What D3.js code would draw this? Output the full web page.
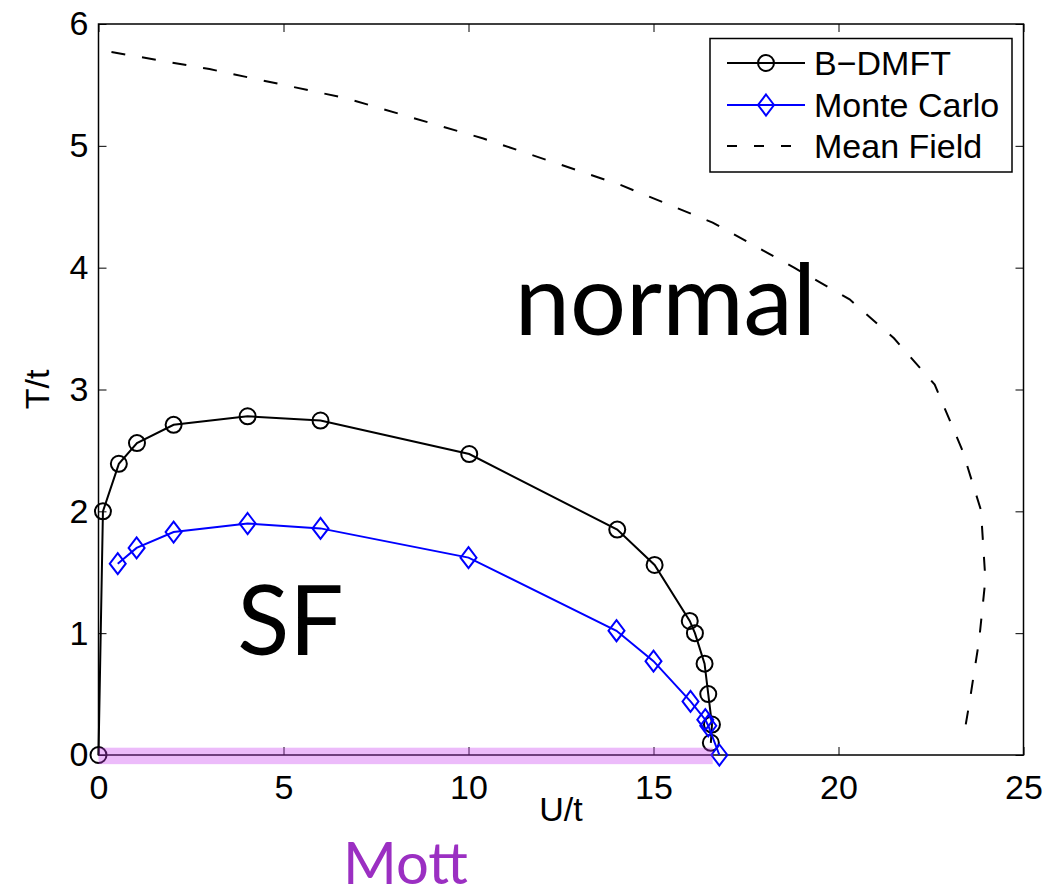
<!DOCTYPE html>
<html>
<head>
<meta charset="utf-8">
<script src="https://cdn.jsdelivr.net/npm/d3@7"></script>
<style>
  body { margin: 0; background: #fff; }
  svg { display: block; }
  .axis text { font-family: 'Liberation Sans', Arial, sans-serif; font-size: 34px; fill: #000; }
</style>
</head>
<body>
<div id="chart"></div>
<script>
// B-DMFT (black circles)
const bdmftU = [0, 0.12, 0.55, 1.04, 2.03, 4.03, 6.0, 10.02, 14.02, 15.03, 15.98, 16.12, 16.38, 16.48, 16.58, 16.55];
const bdmftT = [0, 2.0, 2.39, 2.56, 2.71, 2.78, 2.745, 2.47, 1.85, 1.56, 1.1, 1.0, 0.75, 0.5, 0.25, 0.1];

// Monte Carlo (blue diamonds)
const mcU = [0.52, 1.03, 2.03, 4.03, 6.0, 10.0, 14.0, 15.0, 16.0, 16.4, 16.48, 16.78];
const mcT = [1.57, 1.70, 1.83, 1.90, 1.86, 1.62, 1.02, 0.77, 0.44, 0.29, 0.24, 0.0];

// Mean field (dashed)
const mfU = [0.35, 3, 6.7, 10.4, 14.1, 16.6, 18.8, 20.3, 21.5, 22.6, 23.35, 23.85, 23.97, 23.8, 23.55, 23.4];
const mfT = [5.77, 5.63, 5.39, 5.06, 4.68, 4.37, 4.0, 3.74, 3.42, 3.04, 2.50, 2.01, 1.44, 0.94, 0.45, 0.18];

// Mott band along T = 0
const mottU = [0, 16.6];
const mottT = [0.06, -0.075];

const xTicks = [0, 5, 10, 15, 20, 25];
const yTicks = [0, 1, 2, 3, 4, 5, 6];
const legendNames = ['B\u2212DMFT', 'Monte Carlo', 'Mean Field'];

const width = 1048, height = 895;
const margin = { top: 24, right: 24.5, bottom: 140, left: 98.5 };

const svg = d3.select('#chart').append('svg')
  .attr('width', width)
  .attr('height', height);

const x = d3.scaleLinear().domain([0, 25]).range([margin.left, width - margin.right]);
const y = d3.scaleLinear().domain([0, 6]).range([height - margin.bottom, margin.top]);

const zip = (a, b) => a.map((d, i) => [d, b[i]]);
const line = d3.line().x(d => x(d[0])).y(d => y(d[1]));
const fmt = d3.format('d');

// axes, ticks inside like matlab
const axB = svg.append('g').attr('class', 'axis')
  .attr('transform', `translate(0,${y(0)})`)
  .call(d3.axisBottom(x).tickValues(xTicks).tickFormat(fmt).tickSizeInner(-8).tickSizeOuter(0).tickPadding(20));
const axT = svg.append('g').attr('class', 'axis')
  .attr('transform', `translate(0,${y(6)})`)
  .call(d3.axisTop(x).tickValues(xTicks).tickSizeInner(-8).tickSizeOuter(0).tickFormat(''));
const axL = svg.append('g').attr('class', 'axis')
  .attr('transform', `translate(${x(0)},0)`)
  .call(d3.axisLeft(y).tickValues(yTicks).tickFormat(fmt).tickSizeInner(-8).tickSizeOuter(0).tickPadding(10));
const axR = svg.append('g').attr('class', 'axis')
  .attr('transform', `translate(${x(25)},0)`)
  .call(d3.axisRight(y).tickValues(yTicks).tickSizeInner(-8).tickSizeOuter(0).tickFormat(''));
[axB, axT, axL, axR].forEach(a => {
  a.select('.domain').remove();
  a.selectAll('line').attr('stroke', '#000').attr('stroke-width', 1);
});

svg.append('rect')
  .attr('x', x(0)).attr('y', y(6))
  .attr('width', x(25) - x(0)).attr('height', y(0) - y(6))
  .attr('fill', 'none').attr('stroke', '#000').attr('stroke-width', 1.5);

// axis labels
svg.append('text')
  .attr('x', (x(0) + x(25)) / 2).attr('y', 821)
  .attr('text-anchor', 'middle')
  .style('font-family', "'Liberation Sans', Arial, sans-serif").style('font-size', '34px')
  .text('U/t');
svg.append('text')
  .attr('transform', `translate(49,${(y(0) + y(6)) / 2}) rotate(-90)`)
  .attr('text-anchor', 'middle')
  .style('font-family', "'Liberation Sans', Arial, sans-serif").style('font-size', '34px')
  .text('T/t');

// region labels
const bigFont = "Lato, 'Open Sans', sans-serif";
svg.append('text').attr('x', x(11.25)).attr('y', y(3.45))
  .style('font-family', bigFont).style('font-size', '99px').text('normal');
svg.append('text').attr('x', x(3.75)).attr('y', y(0.82))
  .style('font-family', bigFont).style('font-size', '96px').text('SF');

// mean field
svg.append('path')
  .datum(zip(mfU, mfT))
  .attr('d', line)
  .attr('fill', 'none').attr('stroke', '#000').attr('stroke-width', 2)
  .attr('stroke-dasharray', '14,17');

// B-DMFT
svg.append('path')
  .datum(zip(bdmftU, bdmftT))
  .attr('d', line)
  .attr('fill', 'none').attr('stroke', '#000').attr('stroke-width', 2);
svg.append('g').selectAll('circle')
  .data(zip(bdmftU, bdmftT))
  .join('circle')
  .attr('cx', d => x(d[0])).attr('cy', d => y(d[1])).attr('r', 8)
  .attr('fill', 'none').attr('stroke', '#000').attr('stroke-width', 2);

// Monte Carlo
const diamond = 'M0,-10.5L8,0L0,10.5L-8,0Z';
svg.append('path')
  .datum(zip(mcU, mcT))
  .attr('d', line)
  .attr('fill', 'none').attr('stroke', '#0000ff').attr('stroke-width', 2);
svg.append('g').selectAll('path')
  .data(zip(mcU, mcT))
  .join('path')
  .attr('d', diamond)
  .attr('transform', d => `translate(${x(d[0])},${y(d[1])})`)
  .attr('fill', 'none').attr('stroke', '#0000ff').attr('stroke-width', 2);

// Mott band (translucent, over the axis)
svg.append('rect')
  .attr('x', x(mottU[0])).attr('y', y(mottT[0]))
  .attr('width', x(mottU[1]) - x(mottU[0]))
  .attr('height', y(mottT[1]) - y(mottT[0]))
  .attr('fill', 'rgb(200,60,240)').attr('fill-opacity', 0.35);

svg.append('text').attr('x', 343).attr('y', 884)
  .style('font-family', bigFont).style('font-size', '58px')
  .style('fill', '#9b2fc2').text('Mott');

// legend
const lg = svg.append('g');
lg.append('rect')
  .attr('x', 710).attr('y', 38.5).attr('width', 302).attr('height', 133.5)
  .attr('fill', '#fff').attr('stroke', '#000').attr('stroke-width', 1.5);
const rowY = [63, 105, 146];
const rowColor = ['#000', '#0000ff', '#000'];
legendNames.forEach((name, i) => {
  lg.append('line')
    .attr('x1', 727).attr('x2', 805).attr('y1', rowY[i]).attr('y2', rowY[i])
    .attr('stroke', rowColor[i]).attr('stroke-width', 2)
    .attr('stroke-dasharray', i === 2 ? '10,17' : null);
  if (i === 0) {
    lg.append('circle').attr('cx', 766).attr('cy', rowY[i]).attr('r', 8)
      .attr('fill', 'none').attr('stroke', '#000').attr('stroke-width', 2);
  } else if (i === 1) {
    lg.append('path').attr('d', diamond).attr('transform', `translate(766,${rowY[i]})`)
      .attr('fill', 'none').attr('stroke', '#0000ff').attr('stroke-width', 2);
  }
  lg.append('text')
    .attr('x', 814).attr('y', rowY[i]).attr('dy', '0.36em')
    .style('font-family', "'Liberation Sans', Arial, sans-serif").style('font-size', '34px')
    .text(name);
});
</script>
</body>
</html>
